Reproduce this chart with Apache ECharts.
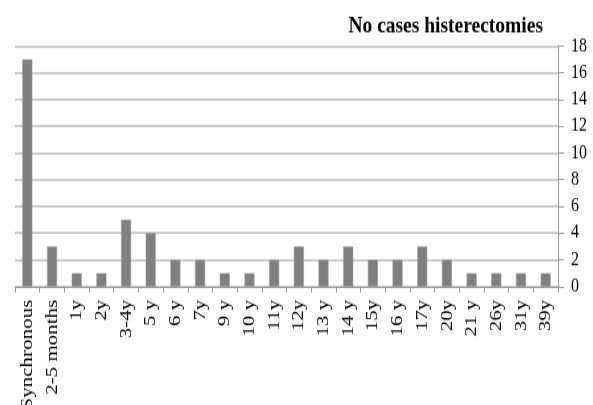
<!DOCTYPE html>
<html><head><meta charset="utf-8">
<script src="https://cdn.jsdelivr.net/npm/echarts@6/dist/echarts.min.js"></script>
<style>
html,body{margin:0;padding:0;background:#fff;overflow:hidden}
#wrap{width:593px;height:405px;overflow:hidden;background:#fff}
#c{width:593px;height:337.5px;transform:scaleY(1.2);transform-origin:0 0}
</style>
</head><body><div id="wrap"><div id="c"></div></div>
<script>
const categories = ["Synchronous","2-5 months","1y","2y","3-4y","5 y","6 y","7y","9 y","10 y","11y","12y","13 y","14 y","15y","16 y","17y","20y","21 y","26y","31y","39y"];
const cases = [17,3,1,1,5,4,2,2,1,1,2,3,2,3,2,2,3,2,1,1,1,1];
const titleText = "No cases histerectomies";
const yMin = 0, yMax = 18, yStep = 2;

const chart = echarts.init(document.getElementById('c'), null, {renderer:'canvas'});
chart.setOption({
  animation:false,
  backgroundColor:'#fff',
  title:{text:titleText,right:50,top:12,padding:0,textStyle:{fontFamily:'Liberation Serif',fontWeight:'bold',fontSize:19.5,color:'#000'}},
  grid:{left:15,right:35,top:38.3,bottom:99.2,containLabel:false,outerBoundsMode:'none'},
  xAxis:{type:'category',data:categories,
    axisLine:{lineStyle:{color:'#999',width:1}},
    axisTick:{show:true,alignWithLabel:false,length:5,lineStyle:{color:'#999'}},
    axisLabel:{rotate:90,interval:0,fontFamily:'Liberation Serif',fontSize:17.5,color:'#000',margin:11}},
  yAxis:{type:'value',position:'right',min:yMin,max:yMax,interval:yStep,
    axisLine:{show:true,lineStyle:{color:'#999'}},
    axisTick:{show:true,length:6,lineStyle:{color:'#999'}},
    splitLine:{lineStyle:{color:'#bbb',width:1.5}},
    axisLabel:{fontFamily:'Liberation Serif',fontSize:16,color:'#000',margin:13}},
  series:[{type:'bar',data:cases,barWidth:10,itemStyle:{color:'#808080',borderColor:'#9a9a9a',borderWidth:0.5}}]
});
</script></body></html>
